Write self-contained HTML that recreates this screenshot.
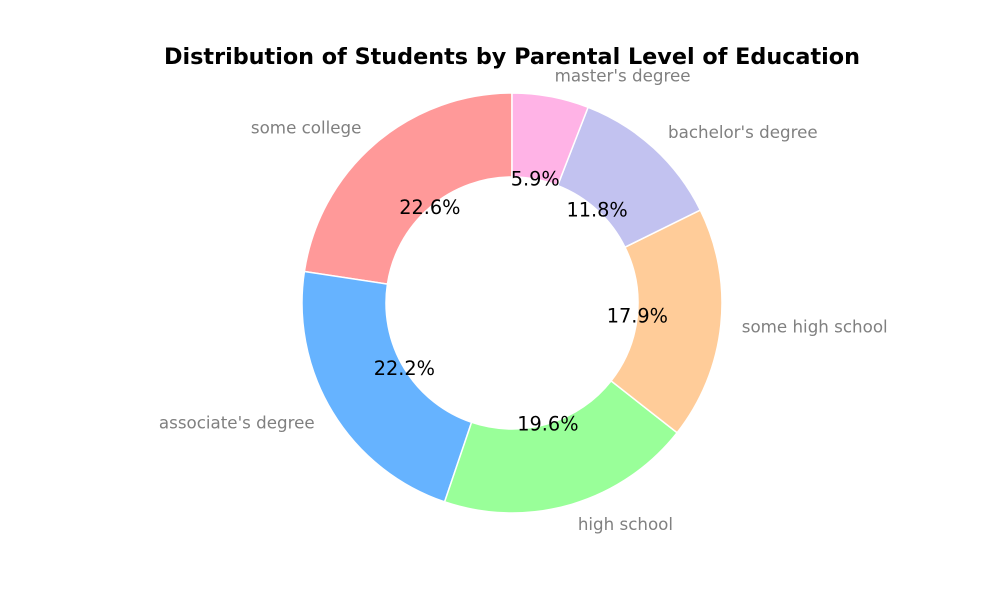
<!DOCTYPE html>
<html><head><meta charset="utf-8"><style>
body{margin:0;background:#fff}
svg{display:block}
</style></head><body>
<svg id="chart" width="1000" height="600">
<text x="512" y="64" text-anchor="middle" font-family="'DejaVu Sans', 'Liberation Sans', sans-serif" font-weight="bold" font-size="22.3">Distribution of Students by Parental Level of Education</text>
</svg>
<script>
const categories = ["some college","associate's degree","high school","some high school","bachelor's degree","master's degree"];
const values = [226,222,196,179,118,59];
const colors = ["#ff9999","#66b3ff","#99ff99","#ffcc99","#c2c2f0","#ffb3e6"];
const svg = document.getElementById('chart');
const NS = 'http://www.w3.org/2000/svg';
const cx = 512, cy = 303, R = 210, r = 126;
const total = values.reduce((a,b)=>a+b,0);
const font = "'DejaVu Sans', 'Liberation Sans', sans-serif";
function pt(rad, deg){ const a = deg*Math.PI/180; return [cx + rad*Math.cos(a), cy - rad*Math.sin(a)]; }
let start = 90;
const texts = [];
values.forEach((v,i)=>{
  const sweep = v/total*360, end = start + sweep;
  const [x1,y1]=pt(R,start),[x2,y2]=pt(R,end),[x3,y3]=pt(r,end),[x4,y4]=pt(r,start);
  const large = sweep>180?1:0;
  const p = document.createElementNS(NS,'path');
  p.setAttribute('d',`M${x1},${y1} A${R},${R} 0 ${large} 0 ${x2},${y2} L${x3},${y3} A${r},${r} 0 ${large} 1 ${x4},${y4} Z`);
  p.setAttribute('fill',colors[i]); p.setAttribute('stroke','#fff'); p.setAttribute('stroke-width','1.5');
  
  
  svg.appendChild(p);
  const mid = start + sweep/2;
  const [lx,ly] = pt(R*1.1, mid);
  const t = document.createElementNS(NS,'text');
  t.setAttribute('x',lx); t.setAttribute('y',ly+5.5);
  t.setAttribute('text-anchor', Math.cos(mid*Math.PI/180) < 0 ? 'end' : 'start');
  t.setAttribute('font-family',font); t.setAttribute('font-size','16.7'); t.setAttribute('fill','#808080');
  t.textContent = categories[i];
  
  
  texts.push(t);
  const [px,py] = pt(R*0.6, mid);
  const q = document.createElementNS(NS,'text');
  q.setAttribute('x',px); q.setAttribute('y',py+6.5);
  q.setAttribute('text-anchor','middle');
  q.setAttribute('font-family',font); q.setAttribute('font-size','19.3'); q.setAttribute('fill','#000');
  q.textContent = (v/total*100).toFixed(1)+'%';
  
  
  texts.push(q);
  start = end;
});
texts.forEach(t=>svg.appendChild(t));
</script>
</body></html>
